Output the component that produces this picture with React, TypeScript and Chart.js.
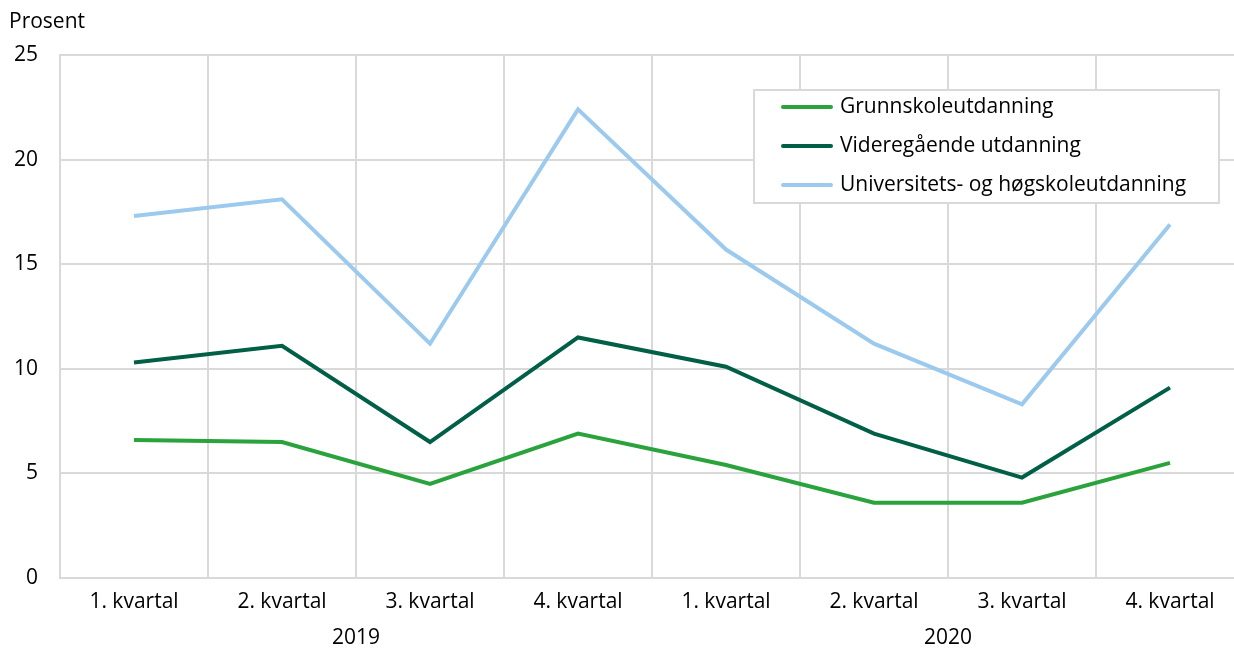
import React, { useEffect, useRef } from "react";
import { Chart, registerables } from "chart.js";

Chart.register(...registerables);

const quarters = ["1. kvartal", "2. kvartal", "3. kvartal", "4. kvartal", "1. kvartal", "2. kvartal", "3. kvartal", "4. kvartal"];
const years = ["2019", "2020"];
const grunnskole = [6.6, 6.5, 4.5, 6.9, 5.4, 3.6, 3.6, 5.5];
const videregaende = [10.3, 11.1, 6.5, 11.5, 10.1, 6.9, 4.8, 9.1];
const universitet = [17.3, 18.1, 11.2, 22.4, 15.7, 11.2, 8.3, 16.9];
const seriesNames = ["Grunnskoleutdanning", "Videregående utdanning", "Universitets- og høgskoleutdanning"];
const yTitle = "Prosent";

const FONT = "'Open Sans', sans-serif";
const FS = 21;

const extrasPlugin = {
  id: "extras",
  afterDraw(chart: any) {
    const ctx = chart.ctx;
    const xs = chart.scales.x;
    ctx.save();
    ctx.fillStyle = "#000";
    ctx.font = `${FS}px ${FONT}`;
    // y title
    ctx.textAlign = "left";
    ctx.textBaseline = "middle";
    ctx.fillText(yTitle, 9, 22);
    // year labels
    ctx.textAlign = "center";
    years.forEach((yr, i) => {
      const a = xs.getPixelForValue(i * 4 + 1);
      const b = xs.getPixelForValue(i * 4 + 2);
      ctx.fillText(yr, (a + b) / 2, 638);
    });
    // legend
    const bx = 754, by = 90, bw = 465, bh = 113;
    ctx.fillStyle = "#fff";
    ctx.fillRect(bx, by, bw, bh);
    ctx.strokeStyle = "#d9d9d9";
    ctx.lineWidth = 2;
    ctx.strokeRect(bx, by, bw, bh);
    chart.data.datasets.forEach((ds: any, i: number) => {
      const y = 107 + i * 39;
      ctx.strokeStyle = ds.borderColor;
      ctx.lineWidth = 4;
      ctx.lineCap = "round";
      ctx.beginPath();
      ctx.moveTo(783, y);
      ctx.lineTo(831, y);
      ctx.stroke();
      ctx.fillStyle = "#000";
      ctx.textAlign = "left";
      ctx.textBaseline = "middle";
      ctx.fillText(ds.label, 840, y);
    });
    ctx.restore();
  },
};

export default function App() {
  const ref = useRef<HTMLCanvasElement>(null);
  useEffect(() => {
    if (!ref.current) return;
    const chart = new Chart(ref.current, {
      type: "line",
      data: {
        labels: quarters,
        datasets: [
          { label: seriesNames[0], data: grunnskole, borderColor: "#2aa33c", backgroundColor: "#2aa33c" },
          { label: seriesNames[1], data: videregaende, borderColor: "#005f46", backgroundColor: "#005f46" },
          { label: seriesNames[2], data: universitet, borderColor: "#9ccaee", backgroundColor: "#9ccaee" },
        ].map((d) => ({ ...d, borderWidth: 4, pointRadius: 0, tension: 0, borderJoinStyle: "miter" as const })),
      },
      options: {
        animation: false,
        responsive: false,
        maintainAspectRatio: false,
        layout: { padding: { left: 0, right: 6, top: 55, bottom: 0 } },
        plugins: { legend: { display: false }, tooltip: { enabled: false } },
        scales: {
          x: {
            offset: true,
            grid: { offset: true, color: "#d9d9d9", lineWidth: 2, drawTicks: false },
            border: { color: "#d9d9d9", width: 2 },
            ticks: { color: "#000", font: { family: FONT, size: FS }, padding: 11, maxRotation: 0, autoSkip: false },
            afterFit: (s: any) => { s.height = 70; },
          },
          y: {
            min: 0,
            max: 25,
            grid: { color: "#d9d9d9", lineWidth: 2, drawTicks: false },
            border: { color: "#d9d9d9", width: 2 },
            ticks: { stepSize: 5, color: "#000", font: { family: FONT, size: FS }, padding: 22 },
            afterFit: (s: any) => { s.width = 60; },
          },
        },
      },
      plugins: [extrasPlugin],
    });
    return () => chart.destroy();
  }, []);
  return (
    <div style={{ position: "fixed", left: 0, top: 0, width: 1234, height: 648, overflow: "hidden", background: "#fff" }}>
      <canvas ref={ref} width={1250} height={648} style={{ display: "block" }} />
    </div>
  );
}
